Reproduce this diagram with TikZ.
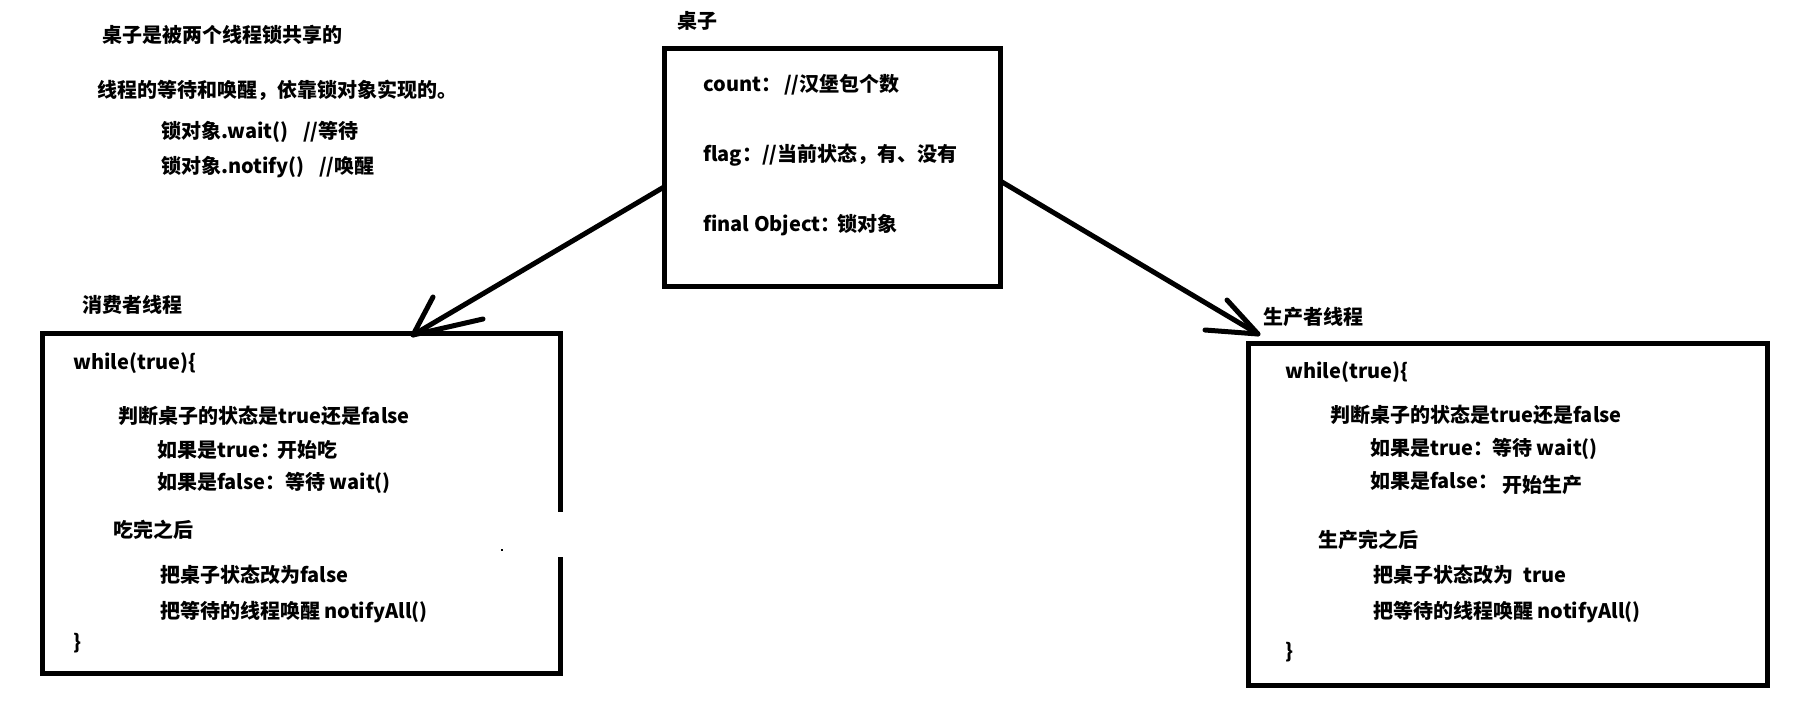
\documentclass[tikz,border=0pt]{standalone}
\usepackage{fontspec}
\setmainfont{Noto Sans CJK SC}
\begin{document}
\begin{tikzpicture}[x=1pt,y=-1pt,
  txt/.style={anchor=west,inner sep=0pt,font=\bfseries\fontsize{20}{24}\selectfont},
  box/.style={draw,line width=5pt,inner sep=0pt},
  conn/.style={line width=5pt,line cap=round,line join=round}]
\useasboundingbox[fill=white] (0,0) rectangle (1800,718);

% top-left notes
\node[txt] (n1) at (102,35) {桌子是被两个线程锁共享的};
\node[txt] (n2) at (97,90) {线程的等待和唤醒，依靠锁对象实现的。};
\node[txt] (n3) at (161,132) {\makebox[142pt][l]{锁对象.wait()}//等待};
\node[txt] (n4) at (161,167) {\makebox[158pt][l]{锁对象.notify()}//唤醒};

% table
\node[txt] (tlab) at (677,21) {桌子};
\node[box,minimum width=336pt,minimum height=238pt] (table) at (832,167) {};
\node[txt] (t1) at (703,85) {\makebox[81pt][l]{count：}//汉堡包个数};
\node[txt] (t2) at (703,155) {\makebox[59pt][l]{flag：}//当前状态，有、没有};
\node[txt] (t3) at (703,225) {\makebox[134pt][l]{final Object：}锁对象};

% consumer
\node[txt] (clab) at (82,305) {消费者线程};
\node[box,minimum width=518pt,minimum height=340pt] (cons) at (301,503) {};
\fill[white] (552,512) rectangle (568,557);
\fill (501,549) rectangle (503,551);
\node[txt] (c1) at (73,363) {while(true)\{};
\node[txt] (c2) at (118,416) {判断桌子的状态是true还是false};
\node[txt] (c3) at (157,450) {\makebox[120pt][l]{如果是true：}开始吃};
\node[txt] (c4) at (157,483) {\makebox[128pt][l]{如果是false：}等待 wait()};
\node[txt] (c5) at (113,530) {吃完之后};
\node[txt] (c6) at (160,575) {把桌子状态改为false};
\node[txt] (c7) at (160,612) {把等待的线程唤醒 notifyAll()};
\node[txt] (c8) at (73,643) {\}};

% producer
\node[txt] (plab) at (1263,317) {生产者线程};
\node[box,minimum width=519pt,minimum height=342pt] (prod) at (1507.5,514) {};
\node[txt] (p1) at (1285,372) {while(true)\{};
\node[txt] (p2) at (1330,415) {判断桌子的状态是true还是false};
\node[txt] (p3) at (1370,449) {\makebox[122pt][l]{如果是true：}等待 wait()};
\node[txt] (p4) at (1370,483) {\makebox[132pt][l]{如果是false：}\raisebox{-4pt}{开始生产}};
\node[txt] (p5) at (1318,540) {生产完之后};
\node[txt] (p6) at (1373,575) {\makebox[150pt][l]{把桌子状态改为}true};
\node[txt] (p7) at (1373,612) {把等待的线程唤醒 notifyAll()};
\node[txt] (p8) at (1285,652) {\}};

% arrows (hand drawn)
\coordinate (ls) at (664,187);
\coordinate (lt) at (413,335);
\coordinate (lb1) at (433,297);
\coordinate (lb2) at (483,319);
\draw[conn] (ls) -- (lt);
\draw[conn] (lb1) -- (lt) -- (lb2);

\coordinate (rs) at (1002,182);
\coordinate (rt) at (1258,334);
\coordinate (rb1) at (1227,300);
\coordinate (rb2) at (1205,330);
\draw[conn] (rs) -- (rt);
\draw[conn] (rb1) -- (rt) -- (rb2);
\end{tikzpicture}
\end{document}
